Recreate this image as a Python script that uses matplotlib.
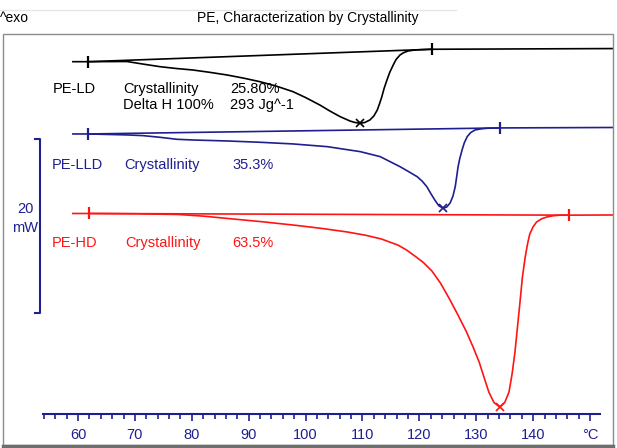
import matplotlib.pyplot as plt
import numpy as np
from matplotlib.patches import Rectangle
from matplotlib.lines import Line2D

plt.rcParams['font.family'] = ['Liberation Sans', 'DejaVu Sans']

W, H = 617, 448
NAVY = '#1f1f8f'
RED = '#ff1414'

# temperature (°C) and heat flow relative to start of curve (mW)
ld_temp = [59.1, 61.8, 68.6, 71.5, 74.4, 77.3, 80.2, 83.2, 86.2, 89.1, 92.0, 94.9,
           97.8, 100.0, 102.5, 104.3, 106.1, 107.8, 108.7, 109.6, 110.4, 111.3,
           112.0, 112.6, 113.0, 113.4, 113.8, 114.3, 114.8, 115.4, 115.9, 116.6,
           117.2, 118.0, 119.0, 120.1, 122.2, 153.9]
ld_flow = [0.0, 0.0, 0.02, -0.28, -0.57, -0.78, -0.95, -1.22, -1.52, -1.88, -2.29, -2.80,
           -3.43, -4.10, -4.95, -5.65, -6.29, -6.78, -6.95, -7.04, -6.95, -6.66,
           -6.20, -5.52, -4.80, -4.00, -3.05, -2.09, -1.20, -0.38, 0.25, 0.77,
           1.02, 1.22, 1.32, 1.37, 1.42, 1.50]

lld_temp = [59.1, 61.8, 68.6, 71.4, 74.4, 77.4, 80.2, 86.2, 92.0, 97.8, 103.8,
            109.6, 113.1, 116.6, 118.1, 119.6, 120.5, 121.3, 122.0, 122.7, 123.4,
            124.2, 124.8, 125.4, 125.9, 126.3, 126.55, 126.8, 127.1, 127.5, 127.9,
            128.4, 129.0, 129.8, 130.8, 131.9, 134.2, 153.9]
lld_flow = [0.0, 0.0, -0.11, -0.19, -0.38, -0.61, -0.69, -0.80, -0.95, -1.14, -1.45,
            -2.02, -2.59, -3.74, -4.30, -4.88, -5.40, -6.02, -6.80, -7.54, -8.20,
            -8.49, -8.35, -7.89, -7.10, -6.02, -4.90, -3.74, -2.80, -1.83, -1.00,
            -0.31, 0.15, 0.46, 0.58, 0.65, 0.69, 0.74]

hd_temp = [59.1, 61.9, 70.0, 77.6, 82.0, 86.5, 92.5, 98.4, 103.0, 107.3, 110.5, 113.3,
           116.2, 117.7, 119.2, 120.7, 122.2, 123.7, 125.2, 126.7, 128.2, 129.4,
           130.5, 131.4, 132.2, 133.1, 134.1, 135.0, 135.75, 136.3, 136.8, 137.25,
           137.7, 138.1, 138.6, 139.0, 139.4, 140.0, 140.6, 141.5, 142.4, 143.5,
           144.7, 146.3, 153.9]
hd_flow = [0.0, 0.0, -0.03, -0.11, -0.30, -0.58, -0.95, -1.36, -1.72, -2.11, -2.48, -2.91,
           -3.60, -4.15, -4.86, -5.60, -6.57, -7.95, -9.66, -11.50, -13.43, -15.20,
           -16.97, -18.80, -20.40, -21.60, -22.11, -21.60, -20.40, -18.30, -15.83, -12.90,
           -10.00, -7.30, -4.97, -3.50, -2.34, -1.50, -0.97, -0.60, -0.40, -0.26,
           -0.19, -0.19, -0.17]

# offsets of the stacked curves (mW)
offsets = {'PE-LD': 40.32, 'PE-LLD': 32.06, 'PE-HD': 22.97}
# integration limits (°C)
limits = {'PE-LD': (61.8, 122.2), 'PE-LLD': (61.8, 134.2), 'PE-HD': (61.9, 146.3)}
peaks = {'PE-LD': 109.6, 'PE-LLD': 124.2, 'PE-HD': 134.1}

curves = [('PE-LD', ld_temp, ld_flow, 'black'),
          ('PE-LLD', lld_temp, lld_flow, NAVY),
          ('PE-HD', hd_temp, hd_flow, RED)]

fig = plt.figure(figsize=(W / 100, H / 100), dpi=100)
ax = fig.add_axes([0, 0, 1, 1])
ax.set_xlim(46.29, 154.73)
ax.set_ylim(-3.83, 47.37)


def px(x, y):
    return x / W, 1 - y / H


for name, t, f, c in curves:
    t = np.array(t)
    f = np.array(f) + offsets[name]
    ax.plot(t, f, color=c, lw=1.2, solid_joinstyle='round')
    a, b = limits[name]
    fa = np.interp(a, t, f)
    fb = np.interp(b, t, f)
    ax.plot([a, b], [fa, fb], color=c, lw=1.2)
    ax.plot([a, b], [fa, fb], ls='none', marker='|', ms=9, mew=1.6, color=c)
    ax.plot(peaks[name], np.interp(peaks[name], t, f), ls='none', marker='x',
            ms=6, mew=1.2, color=c)

# x axis
for s in ['top', 'right', 'left']:
    ax.spines[s].set_visible(False)
ax.spines['bottom'].set_position(('data', 0))
ax.spines['bottom'].set_bounds(53.9, 151.7)
ax.spines['bottom'].set_color(NAVY)
ax.spines['bottom'].set_linewidth(1.5)
ax.set_xticks(np.arange(60, 151, 10))
ax.set_xticklabels([str(v) for v in range(60, 150, 10)] + ['°C'])
ax.set_xticks(np.arange(54, 151, 2), minor=True)
ax.tick_params(axis='x', which='major', direction='out', length=5, width=1.2,
               colors=NAVY, labelsize=10.5, pad=5)
ax.tick_params(axis='x', which='minor', direction='out', length=3.5, width=1.2,
               colors=NAVY)
ax.set_yticks([])

# frame and header
fig.add_artist(Rectangle(px(3, 445), 610 / W, 411 / H, fill=False,
                         edgecolor='#8c8c8c', lw=1.0))
fig.add_artist(Line2D([3 / W, 613 / W], [1 - 446 / H] * 2, color='#6e6e6e', lw=2.5))
fig.add_artist(Line2D([0, 456 / W], [1 - 10 / H] * 2, color='#e6e6e6', lw=1.0))
fig.text(*px(0, 18), '^exo', fontsize=10, va='center', ha='left')
fig.text(*px(308, 18), 'PE, Characterization by Crystallinity', fontsize=10,
         va='center', ha='center')

# scale bar 20 mW
fig.add_artist(Line2D([35 / W, 40 / W, 40 / W, 35 / W],
                      [1 - 139 / H, 1 - 139 / H, 1 - 313 / H, 1 - 313 / H],
                      color=NAVY, lw=1.5))
fig.text(*px(25, 209), '20', fontsize=10.5, color=NAVY, ha='center', va='center')
fig.text(*px(25, 228), 'mW', fontsize=10.5, color=NAVY, ha='center', va='center')

# annotations
fs = 10.5
fig.text(*px(53, 89), 'PE-LD', fontsize=fs, va='center')
fig.text(*px(123, 89), 'Crystallinity', fontsize=fs, va='center')
fig.text(*px(230, 89), '25.80%', fontsize=fs, va='center')
fig.text(*px(123, 105), 'Delta H 100%', fontsize=fs, va='center')
fig.text(*px(230, 105), '293 Jg^-1', fontsize=fs, va='center')

fig.text(*px(52, 165), 'PE-LLD', fontsize=fs, va='center', color=NAVY)
fig.text(*px(124, 165), 'Crystallinity', fontsize=fs, va='center', color=NAVY)
fig.text(*px(232, 165), '35.3%', fontsize=fs, va='center', color=NAVY)

fig.text(*px(52, 243), 'PE-HD', fontsize=fs, va='center', color=RED)
fig.text(*px(125, 243), 'Crystallinity', fontsize=fs, va='center', color=RED)
fig.text(*px(232, 243), '63.5%', fontsize=fs, va='center', color=RED)

fig.savefig('out.png', dpi=100)
